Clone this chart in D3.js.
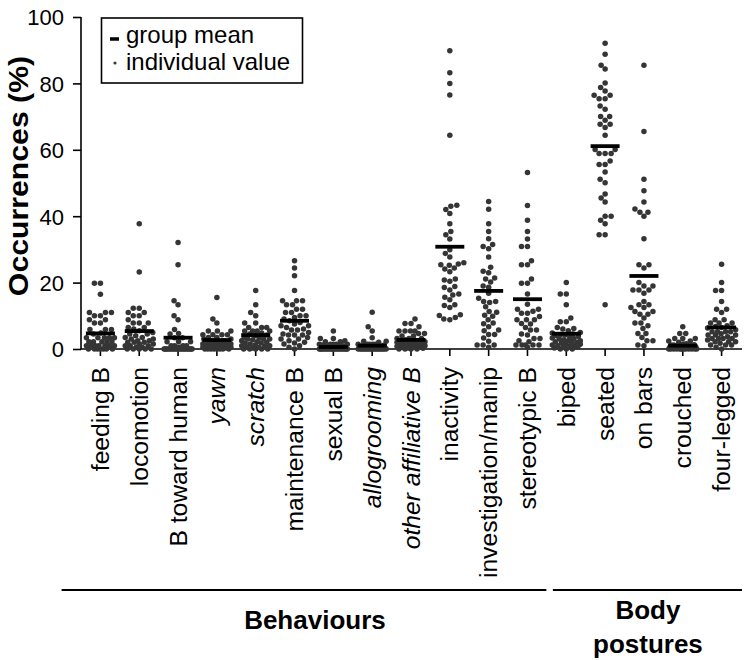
<!DOCTYPE html>
<html><head><meta charset="utf-8">
<script src="https://cdn.jsdelivr.net/npm/d3@7"></script>
<style>
body{margin:0;background:#fff}
text{font-family:"Liberation Sans",Arial,Helvetica,sans-serif;fill:#000}
</style>
</head><body>
<svg id="chart" width="749" height="660"></svg>
<script>
// ---------- data ----------
const categories = ["feeding B","locomotion","B toward human","yawn","scratch","maintenance B","sexual B","allogrooming","other affiliative B","inactivity","investigation/manip","stereotypic B","biped","seated","on bars","crouched","four-legged"];
const italicCategories = ["yawn","scratch","allogrooming","other affiliative B"];
const groupNames = [["Behaviours"],["Body","postures"]];
const groupFirst = ["feeding B","biped"];
const groupLast = ["stereotypic B","four-legged"];
const yTicks = [0,20,40,60,80,100];

const feedingB = [19.8,19.8,16.5,11,11,11,10,10,8.8,8.8,7.8,7.8,5.9,5.9,5.9,4.8,4.5,3.4,3.4,3.4,3.4,3.4,2.2,2.2,2.2,2.2,2.2,1,1,1,1,1,1,1,0,0,0,0,0,0,0];
const locomotion = [37.7,23.2,12.3,12.3,11,11,10,10,8.8,7.8,7.8,7.8,6.5,6.5,6,5.5,5,4.5,4.5,4,3.5,3.5,3,3,2.5,2.5,2,2,2,1.5,1.5,1,1,1,0.5,0.5,0,0,0,0,0];
const towardHuman = [32.1,25.4,14.5,13.3,10,8.8,5.9,4.7,4.5,3.4,3.4,2.2,2.2,2.2,1,1,1,1,0.5,0.5,0,0,0,0,0,0,0,0,0,0,0,0,0,0,0,0,0,0,0,0,0];
const yawn = [15.5,9,7.8,5.4,5.4,5.4,4.3,4.3,4.3,4.3,3.5,3.5,3,3,2.5,2.5,2.2,2,2,1.8,1.5,1.5,1.4,1.4,1.2,1,1,1,0.8,0.5,0.5,0.5,0.3,0,0,0,0,0,0,0,0];
const scratch = [17.6,13.3,11,10,7.8,7.8,6.5,6.5,6.5,5.4,5.4,5.4,5.4,4.8,4.5,4.2,4,3.5,3.3,3,3,3,2.8,2.5,2.2,2,1.8,1.8,1.5,1.2,1,1,0.8,0.6,0.5,0.3,0,0,0,0,0];
const maintenance = [26.6,24.4,22.1,17.6,14.5,14.5,14.5,13.3,13.3,12,12,11,11,10,10,9.5,9,8.5,8,7.5,7,7,6.5,6,5.7,5.7,5,4.5,4.2,4.2,4.2,3.5,3,3,2.5,2,1.8,1.5,1,0.5,0];
const sexual = [5.4,3.2,3.2,2.5,2.2,2.2,1.4,1.4,1.4,1.4,1.4,1.2,1,1,0.8,0.5,0.5,0.3,0.3,0,0,0,0,0,0,0,0,0,0,0,0,0,0,0,0,0,0,0,0,0,0];
const allogrooming = [11.1,6.7,5.4,3.4,2.3,2.3,2,1.4,1.4,1.4,1.4,1.4,1.2,1,1,1,0.8,0.6,0.5,0.5,0.3,0.3,0,0,0,0,0,0,0,0,0,0,0,0,0,0,0,0,0,0,0];
const otherAffiliative = [9,7.7,7.7,6.7,5.4,5.4,5.4,5.4,4.7,4.7,3.9,3.9,3.2,3.2,3.2,2.8,2.5,2.5,2.2,2.2,2,2,1.8,1.8,1.5,1.5,1.3,1.2,1,1,1,0.8,0.7,0.5,0.5,0.3,0.2,0,0,0,0];
const inactivity = [89.8,83.2,80,76.5,64.4,43.3,43,42,40.8,37.7,35.4,34.4,33.1,29.9,28.8,27.7,26,25.6,25.4,25.2,24.4,24.1,23.3,21.1,20.8,20.4,18.8,18.5,17.8,16.6,16.3,15.6,14.8,13.3,13.1,12.5,10.3,10.1,9.5,9,8.8];
const investigation = [44.4,42.1,37.7,35.4,33.2,31.5,30.9,30.2,27.7,24.6,23.4,23,21.4,21.1,20.2,19,18.6,16.8,15.3,14.3,14.3,14,12.7,11.3,11.1,10.2,9.9,8.8,7.8,7.6,6.7,5.7,5.5,4.4,4.4,3.3,2.3,1.2,1.2,1.2,0.5];
const stereotypic = [53.2,43.2,38.8,35.4,33.1,30.9,30.9,26.6,25.4,25.4,21.1,19.8,19.8,16.6,13.5,12,12,11.4,10.8,10.8,9.8,8.8,8.8,8.8,7.7,7.5,6.5,5.7,5.7,4.5,4.2,3.2,3.2,2.5,2.2,1.2,1.2,1.2,1.2,1.2,0.5];
const biped = [20,16.6,16.6,13.3,9.3,8.2,8.2,6.5,6.2,6,5.5,5,4.8,4.5,4.4,4.2,4,3.8,3.5,3.3,3.2,3,2.8,2.5,2.4,2.2,2,2,1.8,1.5,1.4,1.2,1,1,0.8,0.6,0.5,0.3,0,0,0];
const seated = [92.1,88.8,85.5,84.3,80.1,78.8,77.7,76.4,76.4,75.4,75.4,73.2,72.2,70,70,68.9,67.7,67.7,66.7,64.4,60.1,60.1,58.9,58.9,58.9,56.6,55.6,55.6,53.3,51.1,50.1,46.7,45.5,44.3,40,40,38.8,37.7,34.4,34.4,13.3];
const onBars = [85.5,65.5,51.1,47.7,44.3,42.2,41.2,41.2,40,33.2,25.4,25.4,24.4,20,19,19,17.8,17.8,17.8,16.8,14.3,13.3,13.3,12.5,12.5,11.3,11.3,10.5,10.5,9.3,7.8,7.8,7,6.2,4.7,4.7,3.5,2.5,2.5,1.2,1];
const crouched = [6.7,4.7,4.7,3.2,3.2,3.2,2.4,2.4,2,1.6,1.5,1.3,1.2,1.2,1,1,1,0.9,0.8,0.7,0.6,0.5,0.5,0.4,0.3,0.3,0.2,0.2,0.1,0,0,0,0,0,0,0,0,0,0,0,0];
const fourLegged = [25.5,20,17.6,17.6,14.3,12,12,11,8.8,8.8,7.8,7.8,7.8,7,6.8,6.5,6.3,5.8,5.2,5.2,5.2,5.2,4.6,4.2,4.2,4.2,3.7,3.2,3.2,3.2,3.2,2.7,2.2,2.2,2.2,1.7,1.2,1.2,1.2,0.5,0];

const groupMeans = [4.7,5.4,3.4,2.7,4.2,8.5,0.6,1.0,2.75,30.8,17.5,15.0,4.6,61.1,22.0,1.0,6.5];

const series = [feedingB,locomotion,towardHuman,yawn,scratch,maintenance,sexual,allogrooming,otherAffiliative,inactivity,investigation,stereotypic,biped,seated,onBars,crouched,fourLegged];

// ---------- chart ----------
const svg = d3.select("#chart");
const x = d3.scaleBand().domain(categories).range([81, 741]).paddingInner(0).paddingOuter(0);
const cx = c => x(c) + x.bandwidth()/2;
const y = d3.scaleLinear().domain([0,100]).range([349, 17]);

// y axis
const yAxis = svg.append("g").attr("transform","translate(81,0)")
  .call(d3.axisLeft(y).tickValues(yTicks).tickSize(8).tickPadding(9).tickFormat(d3.format("d")));
yAxis.select(".domain").attr("stroke","#000").attr("stroke-width",1.6).attr("d","M0,"+y(100)+"V"+y(0));
yAxis.selectAll(".tick line").attr("stroke","#000").attr("stroke-width",1.6);
yAxis.selectAll(".tick text").style("font-size","22px").attr("fill","#1a1a1a").attr("dy","0.36em");

// x axis
const xAxis = svg.append("g").attr("transform","translate(0,349)")
  .call(d3.axisBottom(x).tickSize(7).tickFormat(""));
xAxis.select(".domain").attr("stroke","#000").attr("stroke-width",1.6).attr("d","M81,0H742");
xAxis.selectAll(".tick line").attr("stroke","#000").attr("stroke-width",1.6);

// category labels
svg.append("g").selectAll("text").data(categories).join("text")
  .attr("transform", d => `translate(${cx(d)+8.5},367) rotate(-90) scale(1.05,1)`)
  .attr("text-anchor","end")
  .style("font-size","23.5px")
  .style("font-style", d => italicCategories.includes(d) ? "italic" : "normal")
  .text(d => d);

// y label
svg.append("text")
  .attr("transform","translate(28,176) rotate(-90) scale(1.12,1)")
  .attr("text-anchor","middle")
  .style("font-size","27px").style("font-weight","bold")
  .text("Occurrences (%)");

// beeswarm positions
const R = 2.75, D = 5.6, CAP = 14;
const offsets = d3.range(-CAP, CAP+0.01, 0.5).sort((a,b)=>Math.abs(a)-Math.abs(b) || a-b);
function swarm(vals){
  const pts = vals.map(v=>({v, py:y(v)})).sort((a,b)=>a.v-b.v);
  const placed = [];
  pts.forEach(p=>{
    let best=null, bestScore=-1;
    for(const o of offsets){
      let md = Infinity;
      for(const q of placed){
        const dy = q.py-p.py; if (Math.abs(dy) >= D) continue;
        const dd = Math.hypot(q.dx-o, dy); if (dd<md) md=dd;
      }
      if (md >= D){ best=o; bestScore=Infinity; break; }
      if (md > bestScore + 0.01){ bestScore=md; best=o; }
    }
    p.dx = best; placed.push(p);
  });
  return placed;
}

const dotsG = svg.append("g");
series.forEach((vals,i)=>{
  const c = categories[i];
  dotsG.append("g").selectAll("circle").data(swarm(vals)).join("circle")
    .attr("cx", d => cx(c)+d.dx).attr("cy", d => d.py).attr("r", R)
    .attr("fill","#353535");
});

// group means
svg.append("g").selectAll("line").data(groupMeans).join("line")
  .attr("x1",(d,i)=>cx(categories[i])-14.5).attr("x2",(d,i)=>cx(categories[i])+14.5)
  .attr("y1",d=>y(d)).attr("y2",d=>y(d))
  .attr("stroke","#000").attr("stroke-width",3.8);

// group brackets
const step = x.step();
groupNames.forEach((g,i)=>{
  const a = cx(groupFirst[i]), b = cx(groupLast[i]);
  const x1 = i===0 ? a - step : a - step/2 + 6;
  const x2 = i===0 ? b + step/2 - 0.5 : b + step/2 + 1;
  svg.append("line").attr("x1",x1).attr("x2",x2).attr("y1",590).attr("y2",590)
    .attr("stroke","#000").attr("stroke-width",2.2);
  const mid = (a+b)/2 + (i===1 ? 4 : 1);
  g.forEach((t,j)=>{
    svg.append("text").attr("x",mid).attr("y", g.length===1 ? 629 : 619 + j*34)
      .attr("text-anchor","middle").style("font-size","26px").style("font-weight","bold")
      .text(t);
  });
});

// legend
const lg = svg.append("g");
lg.append("rect").attr("x",101.5).attr("y",18).attr("width",201).attr("height",65)
  .attr("fill","#fff").attr("stroke","#000").attr("stroke-width",1.6);
lg.append("line").attr("x1",110).attr("x2",119).attr("y1",39).attr("y2",39).attr("stroke","#000").attr("stroke-width",3.5);
lg.append("circle").attr("cx",115).attr("cy",63).attr("r",1.6).attr("fill","#3b3b3b");
lg.append("text").attr("x",126).attr("y",43).style("font-size","24px").text("group mean");
lg.append("text").attr("x",126).attr("y",70).style("font-size","24px").text("individual value");
</script>
</body></html>
